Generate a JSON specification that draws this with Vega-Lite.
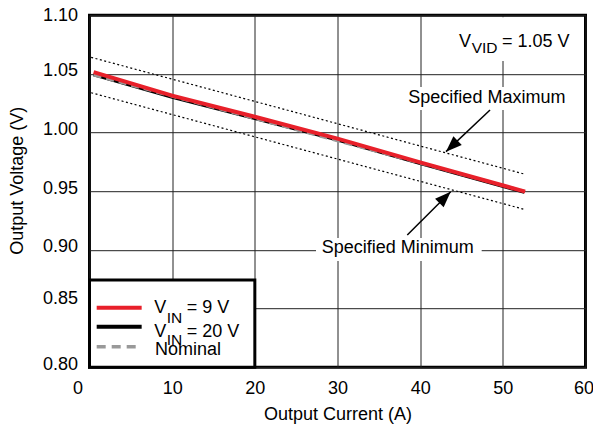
{
  "$schema": "https://vega.github.io/schema/vega-lite/v6.json",
  "width": 496,
  "height": 352,
  "autosize": {"type": "none"},
  "padding": {"left": 89.5, "top": 15.2, "right": 7.5, "bottom": 60.8},
  "background": "white",
  "config": {
    "view": {"stroke": "black", "strokeWidth": 3},
    "font": "Liberation Sans",
    "axis": {
      "grid": true, "gridColor": "#222222", "gridWidth": 1, "gridOpacity": 1,
      "domain": false, "ticks": false, "tickSize": 0,
      "labelFontSize": 18, "labelColor": "black", "labelFont": "Liberation Sans",
      "titleFontSize": 18, "titleFontWeight": "normal", "titleColor": "black", "titleFont": "Liberation Sans",
      "labelFlush": false, "labelOverlap": false, "labelBound": false
    }
  },
  "datasets": {
    "curves": [
      {"series": "9V", "x": 0.5, "y": 1.0515},
      {"series": "9V", "x": 10, "y": 1.0315},
      {"series": "9V", "x": 20, "y": 1.0135},
      {"series": "9V", "x": 30, "y": 0.9948},
      {"series": "9V", "x": 40, "y": 0.9746},
      {"series": "9V", "x": 52.7, "y": 0.9496},
      {"series": "20V", "x": 0.5, "y": 1.0495},
      {"series": "20V", "x": 10, "y": 1.0302},
      {"series": "20V", "x": 20, "y": 1.0122},
      {"series": "20V", "x": 30, "y": 0.9938},
      {"series": "20V", "x": 40, "y": 0.9737},
      {"series": "20V", "x": 52.6, "y": 0.9492},
      {"series": "Nominal", "x": 0.5, "y": 1.049},
      {"series": "Nominal", "x": 52.6, "y": 0.95}
    ],
    "spec": [
      {"limit": "max", "x": 0.2, "y": 1.0641},
      {"limit": "max", "x": 52.56, "y": 0.9647},
      {"limit": "min", "x": 0.2, "y": 1.0339},
      {"limit": "min", "x": 52.56, "y": 0.9346}
    ],
    "boxes": [
      {"x": 44.2, "x2": 58.8, "y": 1.0983, "y2": 1.061},
      {"x": 38.0, "x2": 58.7, "y": 1.0388, "y2": 1.0192},
      {"x": 27.4, "x2": 47.44, "y": 0.9101, "y2": 0.8905}
    ],
    "arrows": [
      {"arrow": "max", "x": 48.45, "y": 1.0192, "x2": 43.12, "y2": 0.9837},
      {"arrow": "min", "x": 38.44, "y": 0.9127, "x2": 43.69, "y2": 0.9496}
    ],
    "heads": [
      {"arrow": "max", "x": 43.12, "y": 0.9837},
      {"arrow": "min", "x": 43.69, "y": 0.9496}
    ],
    "legendbox": [
      {"x": 0, "x2": 20, "y": 0.8, "y2": 0.8743}
    ],
    "legendlines": [
      {"series": "9V", "x": 0.87, "x2": 6.31, "y": 0.8507},
      {"series": "20V", "x": 0.87, "x2": 6.31, "y": 0.8344},
      {"series": "Nominal", "x": 0.87, "x2": 6.31, "y": 0.8174}
    ],
    "notes": [
      {"role": "body", "text": "V", "x": 44.7, "y": 1.0732},
      {"role": "body", "text": "= 1.05 V", "x": 49.9, "y": 1.0732},
      {"role": "body", "text": "Specified Maximum", "x": 38.57, "y": 1.0249},
      {"role": "body", "text": "Specified Minimum", "x": 28.09, "y": 0.8976},
      {"role": "body", "text": "V", "x": 7.84, "y": 0.8461},
      {"role": "body", "text": "= 9 V", "x": 11.76, "y": 0.8461},
      {"role": "body", "text": "V", "x": 7.84, "y": 0.826},
      {"role": "body", "text": "= 20 V", "x": 11.76, "y": 0.826},
      {"role": "body", "text": "Nominal", "x": 7.92, "y": 0.8104},
      {"role": "sub", "text": "VID", "x": 46.23, "y": 1.0675},
      {"role": "sub", "text": "IN", "x": 9.34, "y": 0.8376},
      {"role": "sub", "text": "IN", "x": 9.34, "y": 0.8189}
    ]
  },
  "encoding": {
    "x": {
      "field": "x", "type": "quantitative",
      "scale": {"domain": [0, 60], "nice": false, "zero": false},
      "axis": {"title": "Output Current (A)", "values": [0, 10, 20, 30, 40, 50, 60], "labelPadding": 12, "titlePadding": 8,
        "labelOffset": {"expr": "datum.value === 0 ? -12 : (datum.value === 60 ? -2 : 0)"}}
    },
    "y": {
      "field": "y", "type": "quantitative",
      "scale": {"domain": [0.8, 1.1], "nice": false, "zero": false},
      "axis": {"title": "Output Voltage (V)", "values": [0.8, 0.85, 0.9, 0.95, 1.0, 1.05, 1.1], "format": ".2f", "labelPadding": 12,
        "labelOffset": {"expr": "datum.value > 1.09 ? 0 : (abs(datum.value - 0.85) < 0.001 ? -10 : -3)"},
        "titleX": -72, "titleY": 165, "titleBaseline": "middle", "titleAlign": "center"}
    }
  },
  "layer": [
    {
      "data": {"name": "boxes"},
      "mark": {"type": "rect", "fill": "white", "strokeWidth": 0},
      "encoding": {"x2": {"field": "x2"}, "y2": {"field": "y2"}}
    },
    {
      "data": {"name": "spec"},
      "mark": {"type": "line", "color": "black", "strokeWidth": 1.2, "strokeDash": [2, 2.5]},
      "encoding": {"detail": {"field": "limit"}}
    },
    {
      "data": {"name": "curves"},
      "transform": [{"filter": "datum.series === '20V'"}],
      "mark": {"type": "line", "color": "black", "strokeWidth": 3.5},
      "encoding": {}
    },
    {
      "data": {"name": "curves"},
      "transform": [{"filter": "datum.series === 'Nominal'"}],
      "mark": {"type": "line", "color": "#999999", "strokeWidth": 3, "strokeDash": [8, 5]},
      "encoding": {}
    },
    {
      "data": {"name": "curves"},
      "transform": [{"filter": "datum.series === '9V'"}],
      "mark": {"type": "line", "color": "#e8202a", "strokeWidth": 4},
      "encoding": {}
    },
    {
      "data": {"name": "arrows"},
      "mark": {"type": "rule", "color": "black", "strokeWidth": 1.5},
      "encoding": {"x2": {"field": "x2"}, "y2": {"field": "y2"}}
    },
    {
      "data": {"name": "heads"},
      "transform": [{"filter": "datum.arrow === 'max'"}],
      "mark": {"type": "point", "shape": "M0,0L-0.38,1L0.38,1Z", "filled": true, "color": "black", "opacity": 1, "size": 1024, "angle": 226.5, "strokeWidth": 0},
      "encoding": {}
    },
    {
      "data": {"name": "heads"},
      "transform": [{"filter": "datum.arrow === 'min'"}],
      "mark": {"type": "point", "shape": "M0,0L-0.38,1L0.38,1Z", "filled": true, "color": "black", "opacity": 1, "size": 1024, "angle": 45, "strokeWidth": 0},
      "encoding": {}
    },
    {
      "data": {"name": "legendbox"},
      "mark": {"type": "rect", "fill": "white", "stroke": "black", "strokeWidth": 3},
      "encoding": {"x2": {"field": "x2"}, "y2": {"field": "y2"}}
    },
    {
      "data": {"name": "legendlines"},
      "transform": [{"filter": "datum.series === '9V'"}],
      "mark": {"type": "rule", "color": "#e8202a", "strokeWidth": 4},
      "encoding": {"x2": {"field": "x2"}}
    },
    {
      "data": {"name": "legendlines"},
      "transform": [{"filter": "datum.series === '20V'"}],
      "mark": {"type": "rule", "color": "black", "strokeWidth": 4},
      "encoding": {"x2": {"field": "x2"}}
    },
    {
      "data": {"name": "legendlines"},
      "transform": [{"filter": "datum.series === 'Nominal'"}],
      "mark": {"type": "rule", "color": "#999999", "strokeWidth": 3.5, "strokeDash": [9, 6]},
      "encoding": {"x2": {"field": "x2"}}
    },
    {
      "data": {"name": "notes"},
      "transform": [{"filter": "datum.role === 'body'"}],
      "mark": {"type": "text", "align": "left", "baseline": "alphabetic", "fontSize": 18, "color": "black", "font": "Liberation Sans"},
      "encoding": {"text": {"field": "text"}}
    },
    {
      "data": {"name": "notes"},
      "transform": [{"filter": "datum.role === 'sub'"}],
      "mark": {"type": "text", "align": "left", "baseline": "alphabetic", "fontSize": 15.5, "color": "black", "font": "Liberation Sans"},
      "encoding": {"text": {"field": "text"}}
    }
  ]
}
